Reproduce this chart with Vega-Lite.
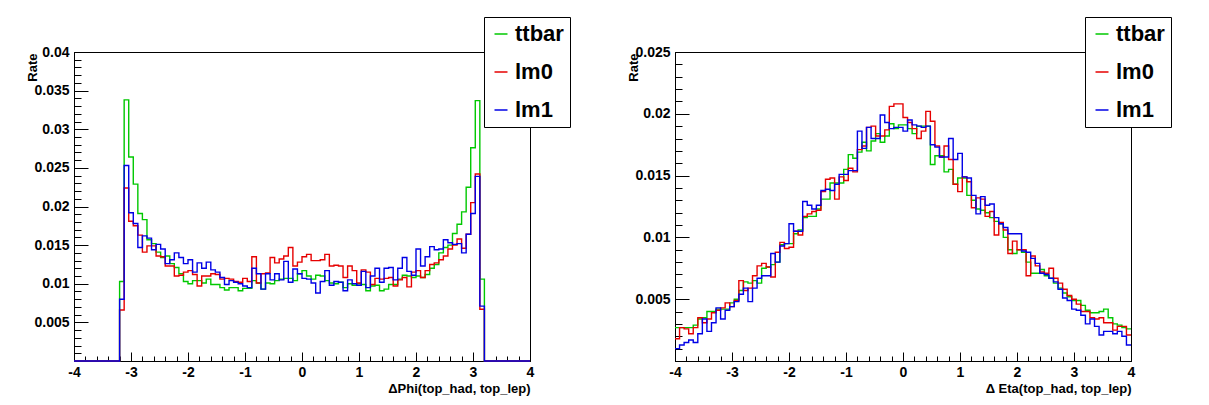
{
  "$schema": "https://vega.github.io/schema/vega-lite/v6.json",
  "padding": {"left": 25, "top": 16, "right": 5, "bottom": 5},
  "spacing": 145,
  "bounds": "flush",
  "background": "white",
  "datasets": {
    "phi": [
      {"x": -4, "ttbar": 0, "lm0": 0, "lm1": 0},
      {"x": -3.92, "ttbar": 0, "lm0": 0, "lm1": 0},
      {"x": -3.84, "ttbar": 0, "lm0": 0, "lm1": 0},
      {"x": -3.76, "ttbar": 0, "lm0": 0, "lm1": 0},
      {"x": -3.68, "ttbar": 0, "lm0": 0, "lm1": 0},
      {"x": -3.6, "ttbar": 0, "lm0": 0, "lm1": 0},
      {"x": -3.52, "ttbar": 0, "lm0": 0, "lm1": 0},
      {"x": -3.44, "ttbar": 0, "lm0": 0, "lm1": 0},
      {"x": -3.36, "ttbar": 0, "lm0": 0, "lm1": 0},
      {"x": -3.28, "ttbar": 0, "lm0": 0, "lm1": 0},
      {"x": -3.2, "ttbar": 0.0103, "lm0": 0.0066, "lm1": 0.0080},
      {"x": -3.12, "ttbar": 0.0338, "lm0": 0.0224, "lm1": 0.0253},
      {"x": -3.04, "ttbar": 0.0264, "lm0": 0.0181, "lm1": 0.0192},
      {"x": -2.96, "ttbar": 0.0229, "lm0": 0.0175, "lm1": 0.0178},
      {"x": -2.88, "ttbar": 0.0191, "lm0": 0.0163, "lm1": 0.0147},
      {"x": -2.8, "ttbar": 0.0183, "lm0": 0.0141, "lm1": 0.0162},
      {"x": -2.72, "ttbar": 0.0157, "lm0": 0.0149, "lm1": 0.0159},
      {"x": -2.64, "ttbar": 0.0152, "lm0": 0.0149, "lm1": 0.0144},
      {"x": -2.56, "ttbar": 0.0141, "lm0": 0.0136, "lm1": 0.0151},
      {"x": -2.48, "ttbar": 0.0134, "lm0": 0.0135, "lm1": 0.0145},
      {"x": -2.4, "ttbar": 0.0136, "lm0": 0.0123, "lm1": 0.0126},
      {"x": -2.32, "ttbar": 0.0126, "lm0": 0.0123, "lm1": 0.0131},
      {"x": -2.24, "ttbar": 0.0121, "lm0": 0.0110, "lm1": 0.0140},
      {"x": -2.16, "ttbar": 0.0113, "lm0": 0.0111, "lm1": 0.0134},
      {"x": -2.08, "ttbar": 0.0103, "lm0": 0.0115, "lm1": 0.0126},
      {"x": -2, "ttbar": 0.0100, "lm0": 0.0117, "lm1": 0.0131},
      {"x": -1.92, "ttbar": 0.0104, "lm0": 0.0112, "lm1": 0.0115},
      {"x": -1.84, "ttbar": 0.0104, "lm0": 0.0097, "lm1": 0.0127},
      {"x": -1.76, "ttbar": 0.0101, "lm0": 0.0110, "lm1": 0.0120},
      {"x": -1.68, "ttbar": 0.0106, "lm0": 0.0110, "lm1": 0.0128},
      {"x": -1.6, "ttbar": 0.0099, "lm0": 0.0113, "lm1": 0.0118},
      {"x": -1.52, "ttbar": 0.0099, "lm0": 0.0112, "lm1": 0.0115},
      {"x": -1.44, "ttbar": 0.0095, "lm0": 0.0106, "lm1": 0.0108},
      {"x": -1.36, "ttbar": 0.0092, "lm0": 0.0107, "lm1": 0.0099},
      {"x": -1.28, "ttbar": 0.0095, "lm0": 0.0106, "lm1": 0.0104},
      {"x": -1.2, "ttbar": 0.0095, "lm0": 0.0103, "lm1": 0.0102},
      {"x": -1.12, "ttbar": 0.0091, "lm0": 0.0102, "lm1": 0.0100},
      {"x": -1.04, "ttbar": 0.0094, "lm0": 0.0107, "lm1": 0.0097},
      {"x": -0.96, "ttbar": 0.0094, "lm0": 0.0103, "lm1": 0.0095},
      {"x": -0.88, "ttbar": 0.0104, "lm0": 0.0135, "lm1": 0.0120},
      {"x": -0.8, "ttbar": 0.0101, "lm0": 0.0101, "lm1": 0.0113},
      {"x": -0.72, "ttbar": 0.0093, "lm0": 0.0113, "lm1": 0.0093},
      {"x": -0.64, "ttbar": 0.0101, "lm0": 0.0114, "lm1": 0.0113},
      {"x": -0.56, "ttbar": 0.0100, "lm0": 0.0134, "lm1": 0.0105},
      {"x": -0.48, "ttbar": 0.0104, "lm0": 0.0127, "lm1": 0.0113},
      {"x": -0.4, "ttbar": 0.0106, "lm0": 0.0132, "lm1": 0.0105},
      {"x": -0.32, "ttbar": 0.0107, "lm0": 0.0136, "lm1": 0.0129},
      {"x": -0.24, "ttbar": 0.0107, "lm0": 0.0147, "lm1": 0.0102},
      {"x": -0.16, "ttbar": 0.0104, "lm0": 0.0123, "lm1": 0.0119},
      {"x": -0.08, "ttbar": 0.0113, "lm0": 0.0128, "lm1": 0.0113},
      {"x": 0, "ttbar": 0.0117, "lm0": 0.0135, "lm1": 0.0107},
      {"x": 0.08, "ttbar": 0.0110, "lm0": 0.0138, "lm1": 0.0106},
      {"x": 0.16, "ttbar": 0.0106, "lm0": 0.0130, "lm1": 0.0101},
      {"x": 0.24, "ttbar": 0.0111, "lm0": 0.0130, "lm1": 0.0088},
      {"x": 0.32, "ttbar": 0.0110, "lm0": 0.0131, "lm1": 0.0103},
      {"x": 0.4, "ttbar": 0.0104, "lm0": 0.0138, "lm1": 0.0117},
      {"x": 0.48, "ttbar": 0.0101, "lm0": 0.0123, "lm1": 0.0098},
      {"x": 0.56, "ttbar": 0.0100, "lm0": 0.0124, "lm1": 0.0103},
      {"x": 0.64, "ttbar": 0.0102, "lm0": 0.0123, "lm1": 0.0102},
      {"x": 0.72, "ttbar": 0.0095, "lm0": 0.0108, "lm1": 0.0091},
      {"x": 0.8, "ttbar": 0.0100, "lm0": 0.0123, "lm1": 0.0105},
      {"x": 0.88, "ttbar": 0.0098, "lm0": 0.0117, "lm1": 0.0100},
      {"x": 0.96, "ttbar": 0.0100, "lm0": 0.0101, "lm1": 0.0098},
      {"x": 1.04, "ttbar": 0.0099, "lm0": 0.0118, "lm1": 0.0116},
      {"x": 1.12, "ttbar": 0.0091, "lm0": 0.0115, "lm1": 0.0095},
      {"x": 1.2, "ttbar": 0.0097, "lm0": 0.0099, "lm1": 0.0110},
      {"x": 1.28, "ttbar": 0.0098, "lm0": 0.0107, "lm1": 0.0120},
      {"x": 1.36, "ttbar": 0.0091, "lm0": 0.0106, "lm1": 0.0102},
      {"x": 1.44, "ttbar": 0.0093, "lm0": 0.0107, "lm1": 0.0120},
      {"x": 1.52, "ttbar": 0.0099, "lm0": 0.0108, "lm1": 0.0121},
      {"x": 1.6, "ttbar": 0.0099, "lm0": 0.0097, "lm1": 0.0105},
      {"x": 1.68, "ttbar": 0.0106, "lm0": 0.0105, "lm1": 0.0120},
      {"x": 1.76, "ttbar": 0.0111, "lm0": 0.0108, "lm1": 0.0134},
      {"x": 1.84, "ttbar": 0.0110, "lm0": 0.0096, "lm1": 0.0116},
      {"x": 1.92, "ttbar": 0.0108, "lm0": 0.0115, "lm1": 0.0111},
      {"x": 2, "ttbar": 0.0110, "lm0": 0.0117, "lm1": 0.0145},
      {"x": 2.08, "ttbar": 0.0108, "lm0": 0.0108, "lm1": 0.0123},
      {"x": 2.16, "ttbar": 0.0112, "lm0": 0.0117, "lm1": 0.0135},
      {"x": 2.24, "ttbar": 0.0120, "lm0": 0.0125, "lm1": 0.0148},
      {"x": 2.32, "ttbar": 0.0125, "lm0": 0.0127, "lm1": 0.0144},
      {"x": 2.4, "ttbar": 0.0140, "lm0": 0.0131, "lm1": 0.0145},
      {"x": 2.48, "ttbar": 0.0147, "lm0": 0.0136, "lm1": 0.0157},
      {"x": 2.56, "ttbar": 0.0150, "lm0": 0.0145, "lm1": 0.0153},
      {"x": 2.64, "ttbar": 0.0165, "lm0": 0.0150, "lm1": 0.0151},
      {"x": 2.72, "ttbar": 0.0177, "lm0": 0.0158, "lm1": 0.0152},
      {"x": 2.8, "ttbar": 0.0193, "lm0": 0.0146, "lm1": 0.0140},
      {"x": 2.88, "ttbar": 0.0225, "lm0": 0.0164, "lm1": 0.0164},
      {"x": 2.96, "ttbar": 0.0276, "lm0": 0.0205, "lm1": 0.0191},
      {"x": 3.04, "ttbar": 0.0337, "lm0": 0.0242, "lm1": 0.0239},
      {"x": 3.12, "ttbar": 0.0106, "lm0": 0.0067, "lm1": 0.0071},
      {"x": 3.2, "ttbar": 0, "lm0": 0, "lm1": 0},
      {"x": 3.28, "ttbar": 0, "lm0": 0, "lm1": 0},
      {"x": 3.36, "ttbar": 0, "lm0": 0, "lm1": 0},
      {"x": 3.44, "ttbar": 0, "lm0": 0, "lm1": 0},
      {"x": 3.52, "ttbar": 0, "lm0": 0, "lm1": 0},
      {"x": 3.6, "ttbar": 0, "lm0": 0, "lm1": 0},
      {"x": 3.68, "ttbar": 0, "lm0": 0, "lm1": 0},
      {"x": 3.76, "ttbar": 0, "lm0": 0, "lm1": 0},
      {"x": 3.84, "ttbar": 0, "lm0": 0, "lm1": 0},
      {"x": 3.92, "ttbar": 0, "lm0": 0, "lm1": 0},
      {"x": 4, "ttbar": 0, "lm0": 0, "lm1": 0}
    ],
    "eta": [
      {"x": -4, "ttbar": 0.0027, "lm0": 0.0018, "lm1": 0.0010},
      {"x": -3.92, "ttbar": 0.0027, "lm0": 0.0027, "lm1": 0.0013},
      {"x": -3.84, "ttbar": 0.0027, "lm0": 0.0026, "lm1": 0.0015},
      {"x": -3.76, "ttbar": 0.0027, "lm0": 0.0022, "lm1": 0.0017},
      {"x": -3.68, "ttbar": 0.0029, "lm0": 0.0027, "lm1": 0.0015},
      {"x": -3.6, "ttbar": 0.0034, "lm0": 0.0035, "lm1": 0.0022},
      {"x": -3.52, "ttbar": 0.0035, "lm0": 0.0031, "lm1": 0.0034},
      {"x": -3.44, "ttbar": 0.0040, "lm0": 0.0034, "lm1": 0.0024},
      {"x": -3.36, "ttbar": 0.0040, "lm0": 0.0039, "lm1": 0.0031},
      {"x": -3.28, "ttbar": 0.0042, "lm0": 0.0041, "lm1": 0.0043},
      {"x": -3.2, "ttbar": 0.0042, "lm0": 0.0043, "lm1": 0.0034},
      {"x": -3.12, "ttbar": 0.0042, "lm0": 0.0047, "lm1": 0.0041},
      {"x": -3.04, "ttbar": 0.0047, "lm0": 0.0044, "lm1": 0.0044},
      {"x": -2.96, "ttbar": 0.0050, "lm0": 0.0049, "lm1": 0.0048},
      {"x": -2.88, "ttbar": 0.0057, "lm0": 0.0065, "lm1": 0.0054},
      {"x": -2.8, "ttbar": 0.0064, "lm0": 0.0057, "lm1": 0.0059},
      {"x": -2.72, "ttbar": 0.0063, "lm0": 0.0059, "lm1": 0.0048},
      {"x": -2.64, "ttbar": 0.0065, "lm0": 0.0069, "lm1": 0.0059},
      {"x": -2.56, "ttbar": 0.0063, "lm0": 0.0077, "lm1": 0.0067},
      {"x": -2.48, "ttbar": 0.0075, "lm0": 0.0079, "lm1": 0.0069},
      {"x": -2.4, "ttbar": 0.0076, "lm0": 0.0076, "lm1": 0.0069},
      {"x": -2.32, "ttbar": 0.0078, "lm0": 0.0068, "lm1": 0.0087},
      {"x": -2.24, "ttbar": 0.0080, "lm0": 0.0088, "lm1": 0.0080},
      {"x": -2.16, "ttbar": 0.0094, "lm0": 0.0096, "lm1": 0.0093},
      {"x": -2.08, "ttbar": 0.0095, "lm0": 0.0091, "lm1": 0.0095},
      {"x": -2, "ttbar": 0.0095, "lm0": 0.0092, "lm1": 0.0111},
      {"x": -1.92, "ttbar": 0.0103, "lm0": 0.0105, "lm1": 0.0105},
      {"x": -1.84, "ttbar": 0.0106, "lm0": 0.0102, "lm1": 0.0105},
      {"x": -1.76, "ttbar": 0.0116, "lm0": 0.0117, "lm1": 0.0129},
      {"x": -1.68, "ttbar": 0.0117, "lm0": 0.0119, "lm1": 0.0126},
      {"x": -1.6, "ttbar": 0.0117, "lm0": 0.0121, "lm1": 0.0123},
      {"x": -1.52, "ttbar": 0.0123, "lm0": 0.0122, "lm1": 0.0126},
      {"x": -1.44, "ttbar": 0.0131, "lm0": 0.0137, "lm1": 0.0138},
      {"x": -1.36, "ttbar": 0.0131, "lm0": 0.0147, "lm1": 0.0139},
      {"x": -1.28, "ttbar": 0.0144, "lm0": 0.0148, "lm1": 0.0138},
      {"x": -1.2, "ttbar": 0.0144, "lm0": 0.0131, "lm1": 0.0143},
      {"x": -1.12, "ttbar": 0.0144, "lm0": 0.0149, "lm1": 0.0151},
      {"x": -1.04, "ttbar": 0.0155, "lm0": 0.0146, "lm1": 0.0151},
      {"x": -0.96, "ttbar": 0.0167, "lm0": 0.0156, "lm1": 0.0154},
      {"x": -0.88, "ttbar": 0.0164, "lm0": 0.0153, "lm1": 0.0154},
      {"x": -0.8, "ttbar": 0.0169, "lm0": 0.0171, "lm1": 0.0186},
      {"x": -0.72, "ttbar": 0.0177, "lm0": 0.0174, "lm1": 0.0172},
      {"x": -0.64, "ttbar": 0.0170, "lm0": 0.0189, "lm1": 0.0189},
      {"x": -0.56, "ttbar": 0.0178, "lm0": 0.0190, "lm1": 0.0180},
      {"x": -0.48, "ttbar": 0.0184, "lm0": 0.0182, "lm1": 0.0180},
      {"x": -0.4, "ttbar": 0.0177, "lm0": 0.0182, "lm1": 0.0199},
      {"x": -0.32, "ttbar": 0.0182, "lm0": 0.0187, "lm1": 0.0193},
      {"x": -0.24, "ttbar": 0.0192, "lm0": 0.0206, "lm1": 0.0188},
      {"x": -0.16, "ttbar": 0.0188, "lm0": 0.0208, "lm1": 0.0189},
      {"x": -0.08, "ttbar": 0.0191, "lm0": 0.0208, "lm1": 0.0189},
      {"x": 0, "ttbar": 0.0191, "lm0": 0.0197, "lm1": 0.0186},
      {"x": 0.08, "ttbar": 0.0188, "lm0": 0.0193, "lm1": 0.0195},
      {"x": 0.16, "ttbar": 0.0184, "lm0": 0.0188, "lm1": 0.0191},
      {"x": 0.24, "ttbar": 0.0190, "lm0": 0.0180, "lm1": 0.0190},
      {"x": 0.32, "ttbar": 0.0190, "lm0": 0.0186, "lm1": 0.0189},
      {"x": 0.4, "ttbar": 0.0190, "lm0": 0.0202, "lm1": 0.0190},
      {"x": 0.48, "ttbar": 0.0159, "lm0": 0.0194, "lm1": 0.0175},
      {"x": 0.56, "ttbar": 0.0166, "lm0": 0.0174, "lm1": 0.0173},
      {"x": 0.64, "ttbar": 0.0166, "lm0": 0.0165, "lm1": 0.0165},
      {"x": 0.72, "ttbar": 0.0153, "lm0": 0.0174, "lm1": 0.0165},
      {"x": 0.8, "ttbar": 0.0155, "lm0": 0.0163, "lm1": 0.0180},
      {"x": 0.88, "ttbar": 0.0143, "lm0": 0.0143, "lm1": 0.0163},
      {"x": 0.96, "ttbar": 0.0148, "lm0": 0.0137, "lm1": 0.0168},
      {"x": 1.04, "ttbar": 0.0148, "lm0": 0.0149, "lm1": 0.0149},
      {"x": 1.12, "ttbar": 0.0134, "lm0": 0.0145, "lm1": 0.0148},
      {"x": 1.2, "ttbar": 0.0130, "lm0": 0.0124, "lm1": 0.0134},
      {"x": 1.28, "ttbar": 0.0123, "lm0": 0.0132, "lm1": 0.0119},
      {"x": 1.36, "ttbar": 0.0122, "lm0": 0.0131, "lm1": 0.0133},
      {"x": 1.44, "ttbar": 0.0120, "lm0": 0.0117, "lm1": 0.0126},
      {"x": 1.52, "ttbar": 0.0116, "lm0": 0.0121, "lm1": 0.0127},
      {"x": 1.6, "ttbar": 0.0113, "lm0": 0.0102, "lm1": 0.0116},
      {"x": 1.68, "ttbar": 0.0111, "lm0": 0.0112, "lm1": 0.0111},
      {"x": 1.76, "ttbar": 0.0100, "lm0": 0.0106, "lm1": 0.0108},
      {"x": 1.84, "ttbar": 0.0090, "lm0": 0.0087, "lm1": 0.0103},
      {"x": 1.92, "ttbar": 0.0087, "lm0": 0.0097, "lm1": 0.0103},
      {"x": 2, "ttbar": 0.0090, "lm0": 0.0090, "lm1": 0.0103},
      {"x": 2.08, "ttbar": 0.0088, "lm0": 0.0090, "lm1": 0.0089},
      {"x": 2.16, "ttbar": 0.0080, "lm0": 0.0069, "lm1": 0.0088},
      {"x": 2.24, "ttbar": 0.0071, "lm0": 0.0085, "lm1": 0.0083},
      {"x": 2.32, "ttbar": 0.0071, "lm0": 0.0077, "lm1": 0.0079},
      {"x": 2.4, "ttbar": 0.0074, "lm0": 0.0072, "lm1": 0.0071},
      {"x": 2.48, "ttbar": 0.0069, "lm0": 0.0071, "lm1": 0.0070},
      {"x": 2.56, "ttbar": 0.0067, "lm0": 0.0075, "lm1": 0.0067},
      {"x": 2.64, "ttbar": 0.0063, "lm0": 0.0067, "lm1": 0.0064},
      {"x": 2.72, "ttbar": 0.0059, "lm0": 0.0063, "lm1": 0.0058},
      {"x": 2.8, "ttbar": 0.0055, "lm0": 0.0058, "lm1": 0.0051},
      {"x": 2.88, "ttbar": 0.0052, "lm0": 0.0053, "lm1": 0.0049},
      {"x": 2.96, "ttbar": 0.0049, "lm0": 0.0050, "lm1": 0.0042},
      {"x": 3.04, "ttbar": 0.0049, "lm0": 0.0046, "lm1": 0.0041},
      {"x": 3.12, "ttbar": 0.0045, "lm0": 0.0040, "lm1": 0.0037},
      {"x": 3.2, "ttbar": 0.0041, "lm0": 0.0040, "lm1": 0.0030},
      {"x": 3.28, "ttbar": 0.0039, "lm0": 0.0035, "lm1": 0.0034},
      {"x": 3.36, "ttbar": 0.0039, "lm0": 0.0034, "lm1": 0.0028},
      {"x": 3.44, "ttbar": 0.0040, "lm0": 0.0035, "lm1": 0.0021},
      {"x": 3.52, "ttbar": 0.0042, "lm0": 0.0031, "lm1": 0.0024},
      {"x": 3.6, "ttbar": 0.0035, "lm0": 0.0031, "lm1": 0.0024},
      {"x": 3.68, "ttbar": 0.0030, "lm0": 0.0025, "lm1": 0.0022},
      {"x": 3.76, "ttbar": 0.0029, "lm0": 0.0028, "lm1": 0.0024},
      {"x": 3.84, "ttbar": 0.0027, "lm0": 0.0028, "lm1": 0.0020},
      {"x": 3.92, "ttbar": 0.0026, "lm0": 0.0021, "lm1": 0.0013},
      {"x": 4, "ttbar": 0.0026, "lm0": 0.0021, "lm1": 0.0013}
    ]
  },
  "hconcat": [
    {
      "width": 456,
      "height": 309,
      "data": {"name": "phi"},
      "resolve": {"axis": {"x": "independent", "y": "independent"}},
      "layer": [
        {
          "mark": {"type": "line", "interpolate": "step-after", "strokeWidth": 1.4},
          "encoding": {
            "x": {"field": "x", "type": "quantitative", "scale": {"domain": [-4, 4], "nice": false, "zero": false},
              "axis": {"orient": "bottom", "values": [-4, -3, -2, -1, 0, 1, 2, 3, 4], "ticks": false, "labelExpr": "'' + datum.value", "labelPadding": 4, "labelBaseline": "top",
                "title": "ΔPhi(top_had, top_lep)", "titleX": 456, "titleY": 31, "titleAlign": "right", "titleBaseline": "alphabetic", "titleAngle": 0}},
            "y": {"field": "ttbar", "type": "quantitative", "scale": {"domain": [0, 0.04], "nice": false, "zero": true},
              "axis": {"orient": "left", "values": [0.005, 0.01, 0.015, 0.02, 0.025, 0.03, 0.035, 0.04], "ticks": false, "labelExpr": "'' + datum.value", "labelPadding": 5,
                "title": "Rate", "titleX": -38, "titleY": 1, "titleAngle": 270, "titleAlign": "right", "titleBaseline": "alphabetic"}},
            "color": {"datum": "ttbar", "type": "nominal",
              "scale": {"domain": ["ttbar", "lm0", "lm1"], "range": ["#00c800", "#e60000", "#0000e6"]},
              "legend": {"title": null, "orient": "none", "legendX": 410, "legendY": -35}}
          }
        },
        {
          "mark": {"type": "line", "interpolate": "step-after", "strokeWidth": 1.4},
          "encoding": {
            "x": {"field": "x", "type": "quantitative",
              "axis": {"orient": "bottom", "values": [-4, -3, -2, -1, 0, 1, 2, 3, 4], "labels": false, "domain": false, "tickSize": -9, "title": null}},
            "y": {"field": "lm0", "type": "quantitative",
              "axis": {"orient": "left", "values": [0, 0.005, 0.01, 0.015, 0.02, 0.025, 0.03, 0.035, 0.04], "labels": false, "domain": false, "tickSize": -14, "title": null}},
            "color": {"datum": "lm0", "type": "nominal"}
          }
        },
        {
          "mark": {"type": "line", "interpolate": "step-after", "strokeWidth": 1.4},
          "encoding": {
            "x": {"field": "x", "type": "quantitative",
              "axis": {"orient": "bottom", "values": [-4, -3.8, -3.6, -3.4, -3.2, -3, -2.8, -2.6, -2.4, -2.2, -2, -1.8, -1.6, -1.4, -1.2, -1, -0.8, -0.6, -0.4, -0.2, 0, 0.2, 0.4, 0.6, 0.8, 1, 1.2, 1.4, 1.6, 1.8, 2, 2.2, 2.4, 2.6, 2.8, 3, 3.2, 3.4, 3.6, 3.8, 4], "labels": false, "domain": false, "tickSize": -5, "title": null}},
            "y": {"field": "lm1", "type": "quantitative",
              "axis": {"orient": "left", "values": [0, 0.001, 0.002, 0.003, 0.004, 0.005, 0.006, 0.007, 0.008, 0.009, 0.01, 0.011, 0.012, 0.013, 0.014, 0.015, 0.016, 0.017, 0.018, 0.019, 0.02, 0.021, 0.022, 0.023, 0.024, 0.025, 0.026, 0.027, 0.028, 0.029, 0.03, 0.031, 0.032, 0.033, 0.034, 0.035, 0.036, 0.037, 0.038, 0.039, 0.04], "labels": false, "domain": false, "tickSize": -7, "title": null}},
            "color": {"datum": "lm1", "type": "nominal"}
          }
        }
      ]
    },
    {
      "width": 456,
      "height": 309,
      "data": {"name": "eta"},
      "resolve": {"axis": {"x": "independent", "y": "independent"}},
      "layer": [
        {
          "mark": {"type": "line", "interpolate": "step-after", "strokeWidth": 1.4},
          "encoding": {
            "x": {"field": "x", "type": "quantitative", "scale": {"domain": [-4, 4], "nice": false, "zero": false},
              "axis": {"orient": "bottom", "values": [-4, -3, -2, -1, 0, 1, 2, 3, 4], "ticks": false, "labelExpr": "'' + datum.value", "labelPadding": 4, "labelBaseline": "top",
                "title": "Δ Eta(top_had, top_lep)", "titleX": 456, "titleY": 31, "titleAlign": "right", "titleBaseline": "alphabetic", "titleAngle": 0}},
            "y": {"field": "ttbar", "type": "quantitative", "scale": {"domain": [0, 0.025], "nice": false, "zero": true},
              "axis": {"orient": "left", "values": [0.005, 0.01, 0.015, 0.02, 0.025], "ticks": false, "labelExpr": "'' + datum.value", "labelPadding": 5,
                "title": "Rate", "titleX": -38, "titleY": 1, "titleAngle": 270, "titleAlign": "right", "titleBaseline": "alphabetic"}},
            "color": {"datum": "ttbar", "type": "nominal",
              "scale": {"domain": ["ttbar", "lm0", "lm1"], "range": ["#00c800", "#e60000", "#0000e6"]},
              "legend": {"title": null, "orient": "none", "legendX": 410, "legendY": -35}}
          }
        },
        {
          "mark": {"type": "line", "interpolate": "step-after", "strokeWidth": 1.4},
          "encoding": {
            "x": {"field": "x", "type": "quantitative",
              "axis": {"orient": "bottom", "values": [-4, -3, -2, -1, 0, 1, 2, 3, 4], "labels": false, "domain": false, "tickSize": -9, "title": null}},
            "y": {"field": "lm0", "type": "quantitative",
              "axis": {"orient": "left", "values": [0, 0.005, 0.01, 0.015, 0.02, 0.025], "labels": false, "domain": false, "tickSize": -14, "title": null}},
            "color": {"datum": "lm0", "type": "nominal"}
          }
        },
        {
          "mark": {"type": "line", "interpolate": "step-after", "strokeWidth": 1.4},
          "encoding": {
            "x": {"field": "x", "type": "quantitative",
              "axis": {"orient": "bottom", "values": [-4, -3.8, -3.6, -3.4, -3.2, -3, -2.8, -2.6, -2.4, -2.2, -2, -1.8, -1.6, -1.4, -1.2, -1, -0.8, -0.6, -0.4, -0.2, 0, 0.2, 0.4, 0.6, 0.8, 1, 1.2, 1.4, 1.6, 1.8, 2, 2.2, 2.4, 2.6, 2.8, 3, 3.2, 3.4, 3.6, 3.8, 4], "labels": false, "domain": false, "tickSize": -5, "title": null}},
            "y": {"field": "lm1", "type": "quantitative",
              "axis": {"orient": "left", "values": [0, 0.001, 0.002, 0.003, 0.004, 0.005, 0.006, 0.007, 0.008, 0.009, 0.01, 0.011, 0.012, 0.013, 0.014, 0.015, 0.016, 0.017, 0.018, 0.019, 0.02, 0.021, 0.022, 0.023, 0.024, 0.025], "labels": false, "domain": false, "tickSize": -7, "title": null}},
            "color": {"datum": "lm1", "type": "nominal"}
          }
        }
      ]
    }
  ],
  "resolve": {"scale": {"color": "independent"}, "legend": {"color": "independent"}},
  "config": {
    "font": "Liberation Sans",
    "view": {"stroke": "black", "strokeWidth": 1},
    "axis": {"domainColor": "black", "domainWidth": 1, "tickColor": "black", "tickWidth": 1, "labelColor": "black", "titleColor": "black", "grid": false,
      "labelFont": "Liberation Sans", "labelFontWeight": "bold", "labelFontSize": 14, "labelFlush": false, "labelOverlap": false,
      "titleFont": "Liberation Sans", "titleFontWeight": "bold", "titleFontSize": 13},
    "legend": {"strokeColor": "black", "fillColor": "white", "padding": 6, "symbolType": "stroke", "symbolSize": 169, "symbolStrokeWidth": 1.5,
      "labelFont": "Liberation Sans", "labelFontWeight": "bold", "labelFontSize": 22, "labelColor": "black", "rowPadding": 16, "labelOffset": 3, "symbolOpacity": 1}
  }
}
